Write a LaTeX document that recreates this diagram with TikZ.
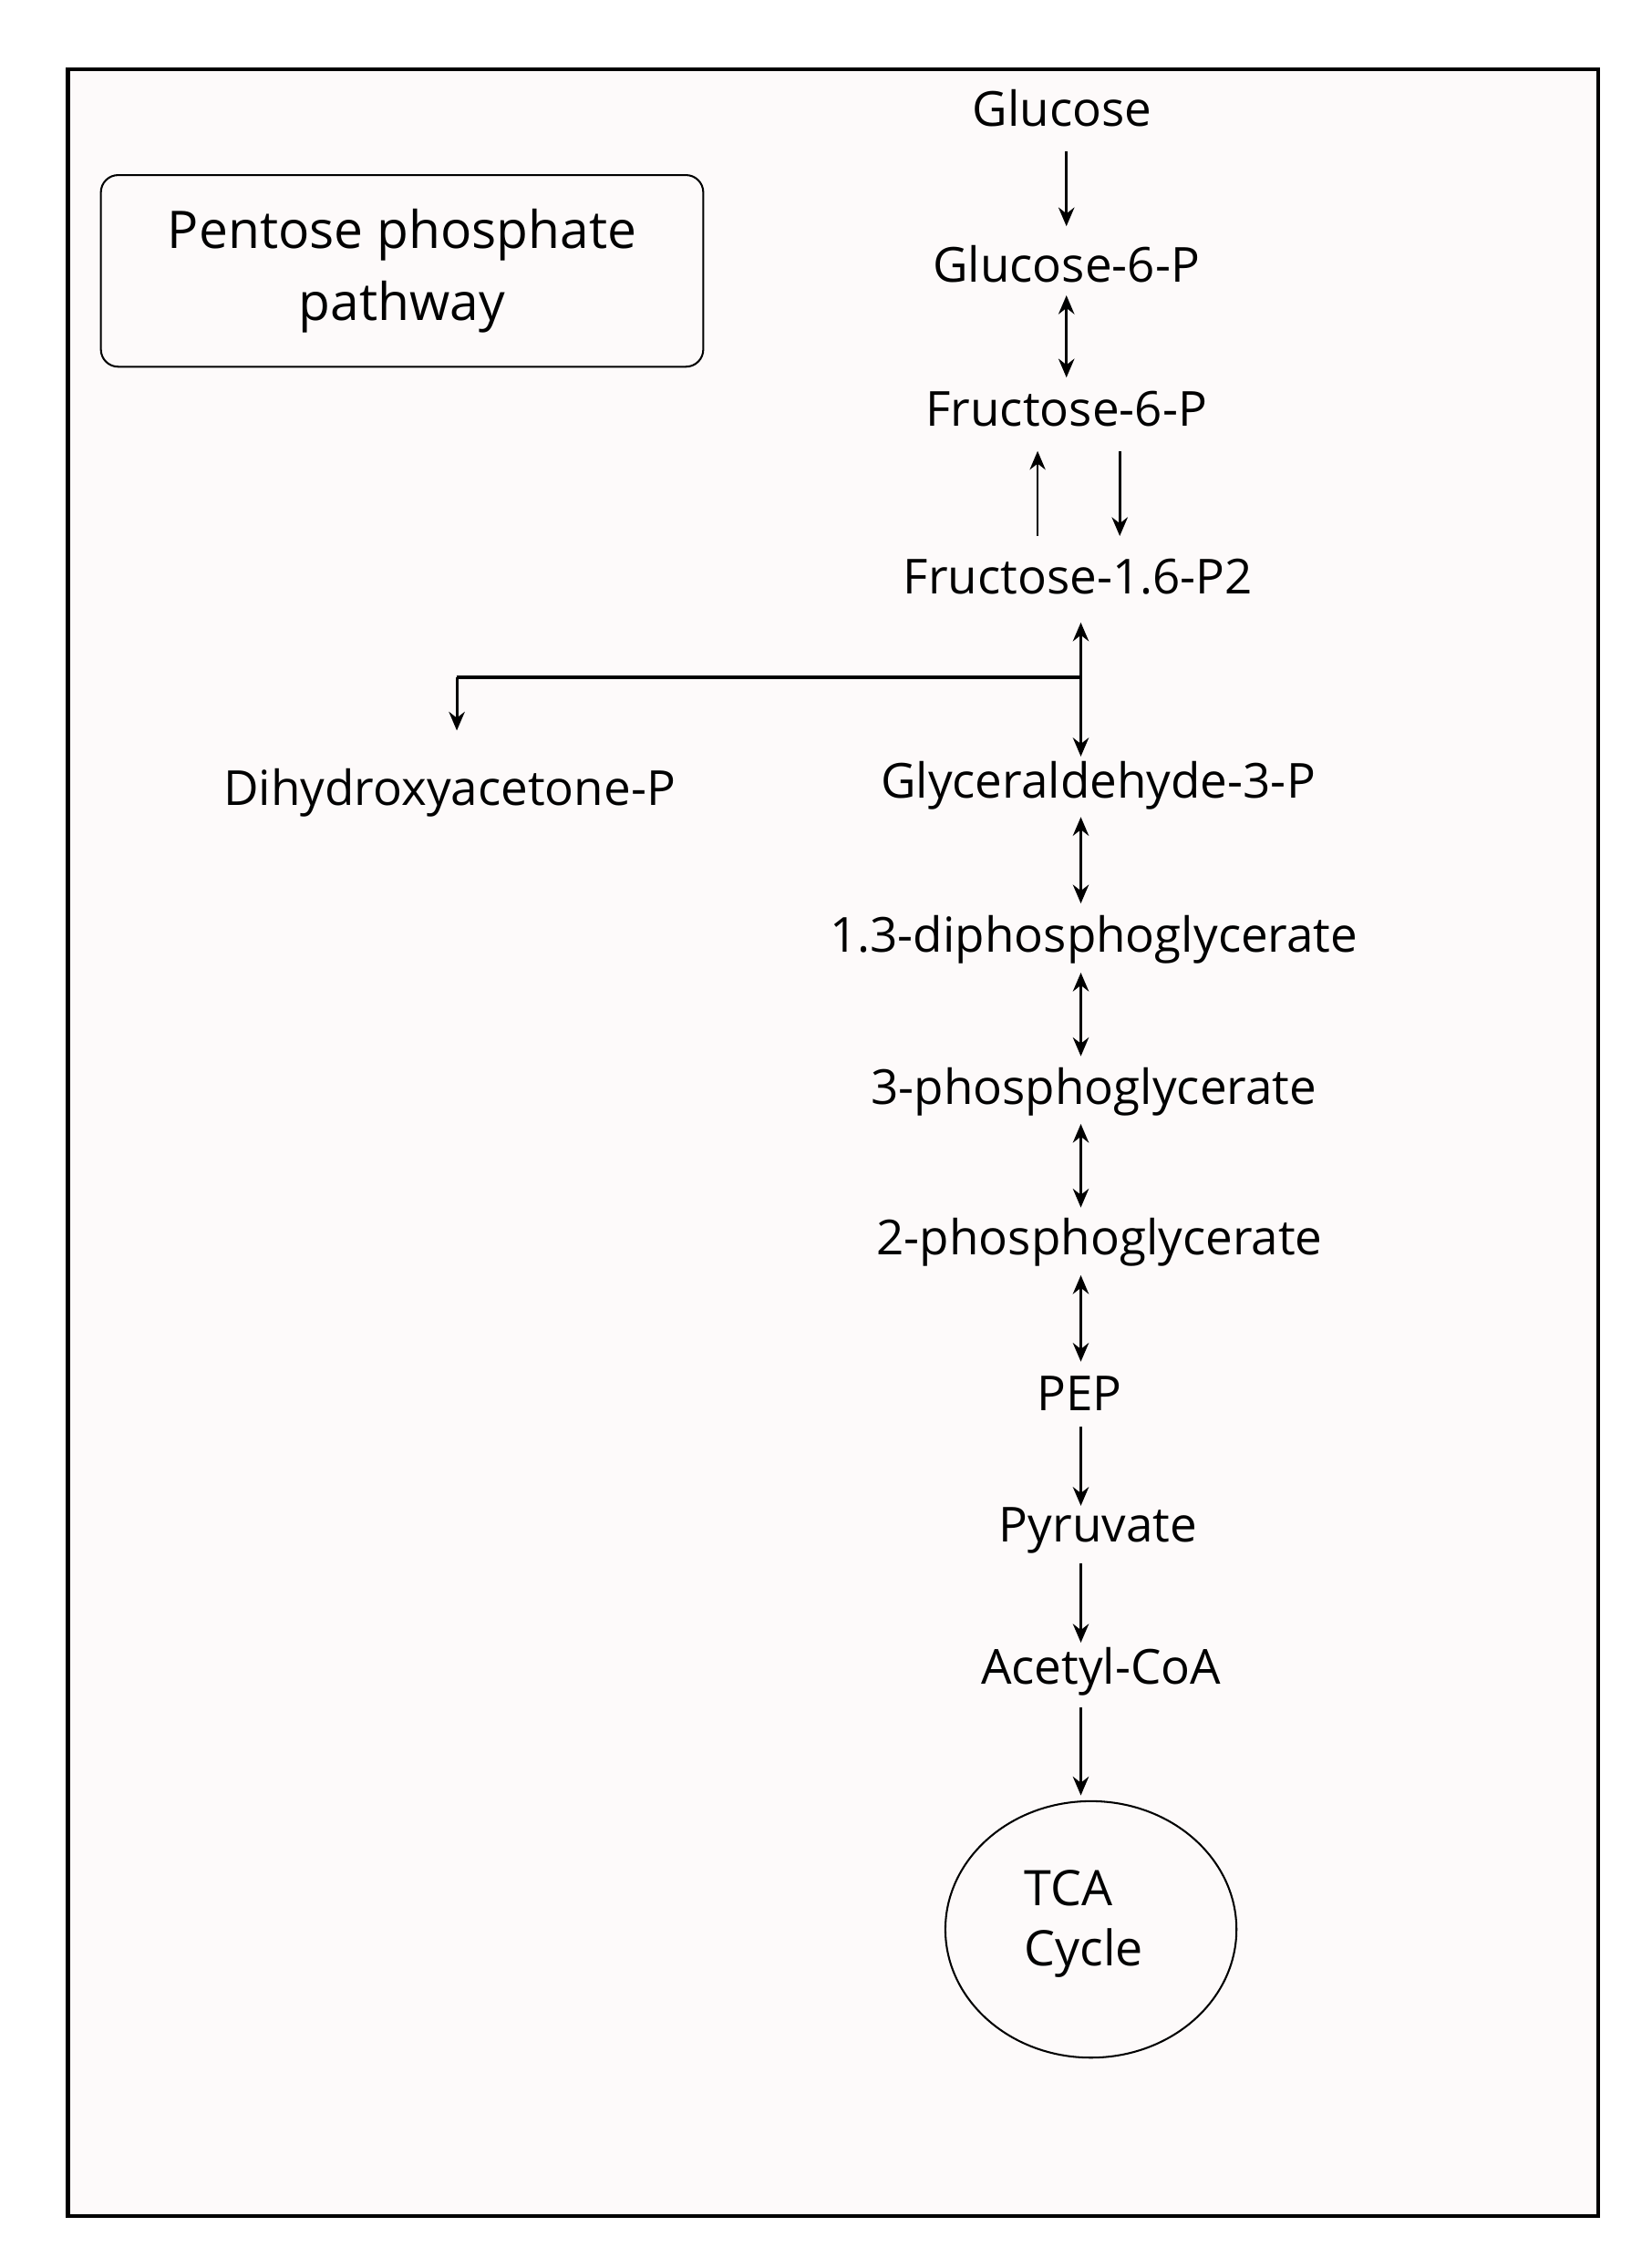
\documentclass[tikz,border=0pt]{standalone}
\usepackage{fontspec}
\setmainfont{Open Sans}
\usetikzlibrary{arrows.meta,shapes.geometric}
\begin{document}
\begin{tikzpicture}[x=1pt,y=-1pt,
  lbl/.style={font=\fontsize{33.5}{40}\selectfont, inner sep=0pt, anchor=center},
  ar/.style={line width=2pt,-{Stealth[length=13,width=11]}},
  dar/.style={line width=2pt,{Stealth[length=13,width=11]}-{Stealth[length=13,width=11]}}]
\useasboundingbox (0,0) rectangle (1146,1574);
\fill[white] (0,0) rectangle (1146,1574);
\draw[line width=3pt, fill={rgb,255:red,253;green,250;blue,250}] (47,48) rectangle (1109,1538);
\node[draw, line width=1.3pt, rounded corners=12pt, minimum width=418pt, minimum height=133pt, align=center, font=\fontsize{36}{50}\selectfont] (ppp) at (279,188) {Pentose phosphate\\pathway};
\node[lbl] (glc) at (737,75) {Glucose};
\node[lbl] (g6p) at (740,183) {Glucose-6-P};
\node[lbl] (f6p) at (740,284) {Fructose-6-P};
\node[lbl] (f16) at (748,400) {Fructose-1.6-P2};
\node[lbl] (dhap) at (312,550) {Dihydroxyacetone-P};
\node[lbl] (ga3p) at (762,545) {Glyceraldehyde-3-P};
\node[lbl] (bpg) at (759,652) {1.3-diphosphoglycerate};
\node[lbl] (pg3) at (759,758) {3-phosphoglycerate};
\node[lbl] (pg2) at (763,862) {2-phosphoglycerate};
\node[lbl] (pep) at (749,967) {PEP};
\node[lbl] (pyr) at (762,1062) {Pyruvate};
\node[lbl] (aca) at (764,1160) {Acetyl-CoA};
\node[draw, line width=1.3pt, ellipse, minimum width=202pt, minimum height=178pt, inner sep=0pt] (tca) at (757,1339) {};
\node[lbl, align=left, font=\fontsize{34}{42}\selectfont] (tcat) at (752,1335) {TCA\\Cycle};
\coordinate (tcatop) at (750,1246);
\draw[ar] (740,105) -- (740,157);
\draw[dar] (740,205) -- (740,262);
\draw[ar, line width=1pt] (720,372) -- (720,313);
\draw[ar] (777,313) -- (777,372);
\draw[dar] (750,432) -- (750,525);
\coordinate (br) at (750,470);
\coordinate (bl) at (317,470);
\draw[line width=2pt] (br) -- (bl);
\draw[ar] (bl) -- (317,507);
\draw[dar] (750,567) -- (750,627);
\draw[dar] (750,675) -- (750,733);
\draw[dar] (750,780) -- (750,838);
\draw[dar] (750,885) -- (750,945);
\draw[ar] (750,990) -- (750,1045);
\draw[ar] (750,1085) -- (750,1140);
\draw[ar] (750,1185) -- (tcatop);
\end{tikzpicture}
\end{document}
